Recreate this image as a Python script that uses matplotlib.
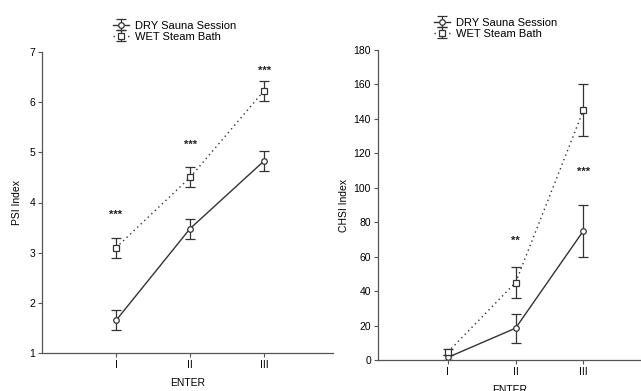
import matplotlib
matplotlib.use("Agg")
import matplotlib.pyplot as plt

categories = ["I", "II", "III"]
x = [1, 2, 3]

psi_dry = [1.65, 3.48, 4.83]
psi_dry_err = [0.2, 0.2, 0.2]
psi_wet = [3.1, 4.5, 6.23]
psi_wet_err = [0.2, 0.2, 0.2]
psi_stars = ["***", "***", "***"]
psi_star_y = [3.75, 5.15, 6.62]

chsi_dry = [1.5, 18.5, 75]
chsi_dry_err = [1.5, 8.5, 15]
chsi_wet = [4.6, 45, 145]
chsi_wet_err = [1.5, 9, 15]
chsi_stars = ["", "**", "***"]
chsi_star_y = [0, 69, 109]

series_labels = ["DRY Sauna Session", "WET Steam Bath"]

plt.rcParams['font.family'] = ['Liberation Sans', 'DejaVu Sans']
W, H = 641, 391
fig = plt.figure(figsize=(W / 100, H / 100), dpi=100)

col = "#333333"
fs = 7.5

def px_axes(l, r, t, b):
    return fig.add_axes([l / W, 1 - b / H, (r - l) / W, (b - t) / H])

def style(ax):
    for s in ["top", "right"]:
        ax.spines[s].set_visible(False)
    for s in ["left", "bottom"]:
        ax.spines[s].set_color("#555555")
        ax.spines[s].set_linewidth(0.9)
    ax.tick_params(axis="both", labelsize=fs, length=3, width=0.8, color="#555555", pad=2)
    ax.set_xticks(x)
    ax.set_xticklabels(categories)

def draw(ax, dry, dry_e, wet, wet_e, stars, star_y, legend_xy):
    h1 = ax.errorbar(x, dry, yerr=dry_e, color=col, lw=1.0, ls="-", marker="o",
                     ms=4, mfc="white", mec=col, mew=0.9, capsize=3.5, elinewidth=0.9,
                     capthick=0.9, label=series_labels[0])
    h2 = ax.errorbar(x, wet, yerr=wet_e, color=col, lw=1.0, ls=(0, (1, 2.5)), marker="s",
                     ms=4, mfc="white", mec=col, mew=0.9, capsize=3.5, elinewidth=0.9,
                     capthick=0.9, label=series_labels[1])
    for xi, s, yi in zip(x, stars, star_y):
        if s:
            ax.text(xi, yi, s, ha="center", va="center", fontsize=8, fontweight="bold", color="#222222")
    fig.legend(handles=[h1, h2], labels=series_labels, loc="upper left",
               bbox_to_anchor=legend_xy, frameon=False, fontsize=8,
               handlelength=1.5, handletextpad=0.5, labelspacing=0.1, borderpad=0)

# Left panel
ax1 = px_axes(42, 333, 52, 353)
ax1.set_xlim(0, 3.93)
ax1.set_ylim(1, 7)
ax1.set_yticks([1, 2, 3, 4, 5, 6, 7])
style(ax1)
draw(ax1, psi_dry, psi_dry_err, psi_wet, psi_wet_err, psi_stars, psi_star_y, (107 / W, 1 - 15 / H))
ax1.set_xlabel("ENTER", fontsize=fs, labelpad=6)
ax1.set_ylabel("PSI Index", fontsize=fs, labelpad=5)

# Right panel
ax2 = px_axes(378, 641, 50, 360)
ax2.set_xlim(-0.03, 3.85)
ax2.set_ylim(0, 180)
ax2.set_yticks(range(0, 181, 20))
style(ax2)
draw(ax2, chsi_dry, chsi_dry_err, chsi_wet, chsi_wet_err, chsi_stars, chsi_star_y, (428 / W, 1 - 12 / H))
ax2.set_xlabel("ENTER", fontsize=fs, labelpad=6)
ax2.set_ylabel("CHSI Index", fontsize=fs, labelpad=3)

fig.savefig("out.png", dpi=100)
